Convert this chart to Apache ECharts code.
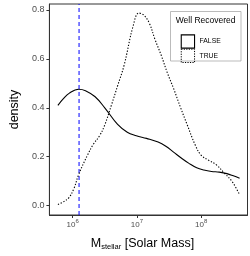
<!DOCTYPE html>
<html><head><meta charset="utf-8">
<script src="https://cdn.jsdelivr.net/npm/echarts@6/dist/echarts.min.js"></script>
<style>html,body{margin:0;padding:0;background:#fff}#c{width:250px;height:256px}</style>
</head><body><div id="c"></div>
<script>
// log10(M_stellar) positions and densities
const falseX = [5.771,5.85,5.95,6.095,6.2,6.35,6.5,6.7,6.85,6.99,7.15,7.33,7.45,7.57,7.7,7.81,7.93,8.04,8.16,8.28,8.4,8.5,8.597];
const falseY = [0.41,0.435,0.46,0.476,0.47,0.445,0.40,0.332,0.30,0.286,0.275,0.26,0.243,0.219,0.193,0.173,0.155,0.146,0.140,0.137,0.131,0.122,0.112];
const trueX = [5.771,5.85,5.94,6.02,6.095,6.23,6.32,6.42,6.5,6.605,6.70,6.80,6.94,7.03,7.10,7.19,7.28,7.38,7.47,7.57,7.68,7.78,7.91,8.0,8.12,8.24,8.36,8.48,8.597];
const trueY = [0.005,0.015,0.032,0.07,0.128,0.206,0.25,0.286,0.33,0.412,0.49,0.573,0.733,0.787,0.78,0.747,0.68,0.613,0.545,0.479,0.40,0.332,0.246,0.206,0.185,0.166,0.133,0.099,0.045];
const cutoffX = 6.10;
const xTicks = [6,7,8];
const yTicks = [0,0.2,0.4,0.6,0.8];
const yMin = -0.038, yMax = 0.824;

const F = 'Liberation Sans, Arial, sans-serif';
const chart = echarts.init(document.getElementById('c'));
chart.setOption({
  animation:false,
  grid:{left:32.5,right:2.5,top:4,bottom:37.3,show:true,borderColor:'#333',borderWidth:1,backgroundColor:'transparent'},
  xAxis:{type:'value',min:5.639,max:8.72,
    splitLine:{show:false},
    axisLine:{show:true,onZero:false,lineStyle:{color:'#333',width:1}},
    axisTick:{show:true,length:3,customValues:xTicks,lineStyle:{color:'#333'}},
    axisLabel:{customValues:xTicks,margin:3,color:'#4d4d4d',fontFamily:F,
      formatter:v=>'{b|10}{s|'+Math.round(v)+'}',
      rich:{b:{fontSize:8,fontFamily:F,color:'#4d4d4d',lineHeight:11,verticalAlign:'bottom'},
            s:{fontSize:6,fontFamily:F,color:'#4d4d4d',lineHeight:11,verticalAlign:'top'}}},
    name:'M{sub|stellar} [Solar Mass]',nameLocation:'middle',nameGap:22,
    nameTextStyle:{fontSize:12.5,fontFamily:F,color:'#000',padding:[0,12,0,0],
      rich:{sub:{fontSize:7.5,fontFamily:F,color:'#000',verticalAlign:'bottom',padding:[6,0,0,0]}}}
  },
  yAxis:{type:'value',min:yMin,max:yMax,
    splitLine:{show:false},
    axisLine:{show:true,lineStyle:{color:'#333',width:1}},
    axisTick:{show:true,length:3,customValues:yTicks,lineStyle:{color:'#333'}},
    axisLabel:{customValues:yTicks,margin:5,fontSize:9,fontFamily:F,color:'#4d4d4d',formatter:v=>v.toFixed(1)},
    name:'density',nameLocation:'middle',nameGap:18,nameRotate:90,
    nameTextStyle:{fontSize:12.5,fontFamily:F,color:'#000'}
  },
  legend:{show:true,orient:'vertical',left:175.7,top:29.3,itemWidth:13.3,itemHeight:13.3,itemGap:0,icon:'rect',
    textStyle:{fontSize:6.8,fontFamily:F,color:'#000'},
    data:[{name:'FALSE',itemStyle:{color:'transparent',borderColor:'#000',borderWidth:1.1,borderType:'solid'}},
          {name:'TRUE',itemStyle:{color:'transparent',borderColor:'#000',borderWidth:1,borderType:[1.2,1.3]}}]},
  graphic:[
    {type:'rect',shape:{x:170.5,y:11.5,width:70.5,height:49.5},style:{fill:'#fff',stroke:'#aaa',lineWidth:0.8},z:-1},
    {type:'text',left:175.7,top:16.5,style:{text:'Well Recovered',fontSize:8.5,fontFamily:F,fill:'#000'}}
  ],
  series:[
    {name:'cutoff',type:'line',symbol:'none',silent:true,data:[[cutoffX,yMin],[cutoffX,yMax]],
      lineStyle:{color:'#0000ff',type:[4,3],width:1},itemStyle:{color:'#0000ff'},z:1},
    {name:'FALSE',type:'line',smooth:0.4,symbol:'none',data:falseX.map((x,i)=>[x,falseY[i]]),
      lineStyle:{color:'#000',width:1.1,type:'solid'},itemStyle:{color:'#000'},z:2},
    {name:'TRUE',type:'line',smooth:0.4,symbol:'none',data:trueX.map((x,i)=>[x,trueY[i]]),
      lineStyle:{color:'#000',width:1.1,type:[1.3,1.7]},itemStyle:{color:'#000'},z:2}
  ]
});
</script></body></html>
